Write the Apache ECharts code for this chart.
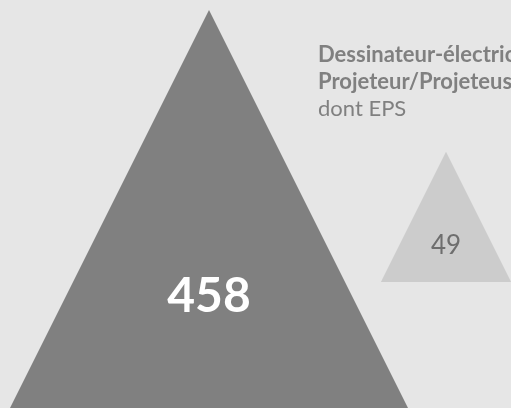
<!DOCTYPE html>
<html>
<head>
<meta charset="utf-8">
<script src="https://cdn.jsdelivr.net/npm/echarts@6/dist/echarts.min.js"></script>
<style>
  html, body { margin: 0; padding: 0; background: #e6e6e6; }
  #chart { width: 511px; height: 408px; }
</style>
</head>
<body>
<div id="chart"></div>
<script>
// donnees
var categories = ['Dessinateur-électricien / Projeteur/Projeteuse', 'dont EPS'];
var values = [458, 49];
var colors = ['#808080', '#cccccc'];
var labelColors = ['#ffffff', '#6e6e6e'];

var FONT = 'Lato, "Noto Sans", sans-serif';
var maxSize = 398;            // cote du plus grand triangle (px)
var centerX = [209, 446];     // position horizontale de chaque triangle (px)
var baseLevel = [0, 126];     // niveau de la base (px depuis le bas)

function sizeOf(v) {
  // surface proportionnelle a la valeur
  return maxSize * Math.sqrt(v / values[0]);
}

var chartDom = document.getElementById('chart');
var myChart = echarts.init(chartDom);

var option = {
  backgroundColor: '#e6e6e6',
  animation: false,
  title: {
    left: 318,
    top: 41,
    padding: 0,
    text: '{b|Dessinateur-électricien / Dessinatrice-électricienne}\n{b|Projeteur/Projeteuse en électricité}\n{n|dont EPS}',
    textStyle: {
      rich: {
        b: { fontFamily: FONT, fontWeight: 'bold', fontSize: 22, color: '#808080', lineHeight: 27 },
        n: { fontFamily: FONT, fontWeight: 'normal', fontSize: 22, color: '#808080', lineHeight: 27 }
      }
    }
  },
  grid: { left: 0, right: 0, top: 0, bottom: 0 },
  xAxis: { type: 'value', min: 0, max: 511, show: false },
  yAxis: { type: 'value', min: 0, max: 408, show: false },
  series: [
    {
      type: 'scatter',
      name: 'triangles',
      symbol: 'triangle',
      silent: true,
      data: values.map(function (v, i) {
        var s = sizeOf(v);
        return {
          name: categories[i],
          value: [centerX[i], baseLevel[i]],
          symbolSize: s,
          symbolOffset: [0, -s / 2],
          itemStyle: { color: colors[i], opacity: 1 },
          label: {
            show: true,
            formatter: String(v),
            position: 'inside',
            offset: [0, 0.22 * s],
            color: labelColors[i],
            fontFamily: FONT,
            fontWeight: i === 0 ? 'bold' : 'normal',
            fontSize: i === 0 ? 48 : 26
          }
        };
      })
    }
  ]
};
myChart.setOption(option);
</script>
</body>
</html>
